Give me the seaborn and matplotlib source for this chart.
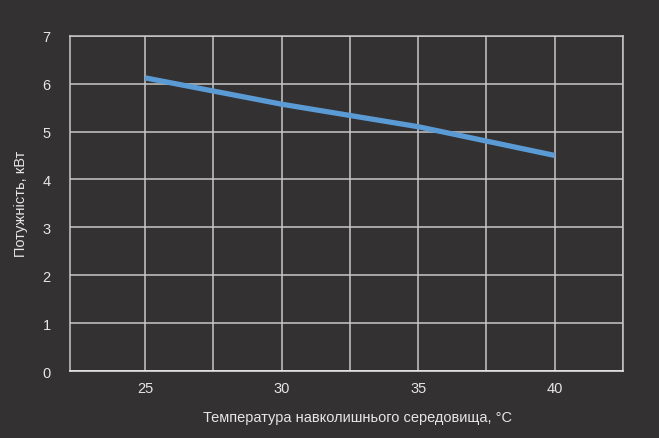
import numpy as np
import pandas as pd
import seaborn as sns
import matplotlib.pyplot as plt
from matplotlib.ticker import MultipleLocator, FixedLocator

temps = [25, 30, 35, 40]
power = [6.12, 5.57, 5.1, 4.5]

df = pd.DataFrame({'temp': temps, 'power': power})

bg = '#333132'
grid = '#c8c8c8'
txt = '#e6e6e6'

sns.set_theme(style='dark')
plt.rcParams['font.family'] = ['Liberation Sans', 'DejaVu Sans']

fig = plt.figure(figsize=(6.59, 4.39), dpi=100, facecolor=bg)
ax = fig.add_axes([0.1062, 0.1526, 0.8392, 0.7638])
ax.set_facecolor(bg)

sns.lineplot(data=df, x='temp', y='power', ax=ax, color='#5b9bd5', linewidth=3.8)
for ln in ax.lines:
    ln.set_solid_capstyle('butt')

ax.set_xlim(22.25, 42.5)
ax.set_ylim(0, 7)
ax.xaxis.set_major_locator(MultipleLocator(5))
ax.xaxis.set_minor_locator(FixedLocator([27.5, 32.5, 37.5, 42.5]))
ax.yaxis.set_major_locator(MultipleLocator(1))
ax.grid(True, which='both', axis='x', color=grid, linewidth=1.1)
ax.grid(True, which='major', axis='y', color=grid, linewidth=1.1)
ax.set_axisbelow(True)
for s in ax.spines.values():
    s.set_color(grid)
    s.set_linewidth(1.1)
ax.spines['bottom'].set_color('#f0f0f0')
ax.tick_params(axis='both', which='both', length=0, colors=txt, labelsize=10.5, pad=7)
ax.tick_params(axis='y', pad=14)

ax.set_xlabel('Температура навколишнього середовища, °С', color=txt, fontsize=10.5, labelpad=9)
ax.xaxis.set_label_coords(0.52, -0.115)
ax.set_ylabel('Потужність, кВт', color=txt, fontsize=10.5, labelpad=10)

fig.savefig('out.png', dpi=100, facecolor=bg)
